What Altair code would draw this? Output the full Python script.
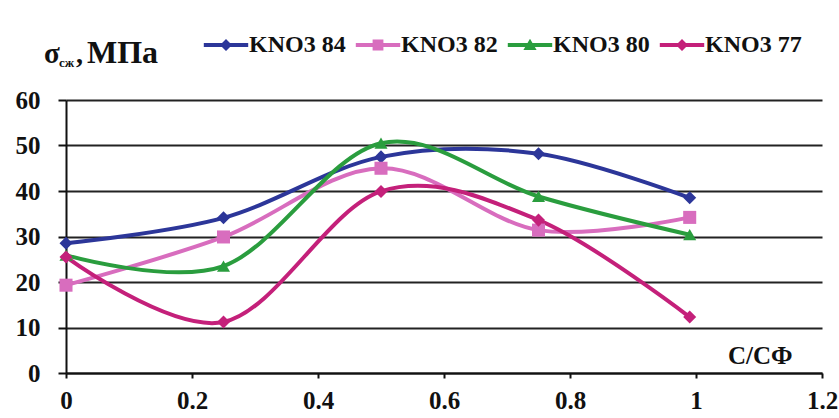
import altair as alt
import pandas as pd

# C/CФ ratio values and compressive strength (MPa) for each KNO3 series
ratio = [0.0, 0.25, 0.5, 0.75, 0.99]
kno3_84 = [28.5, 34.1, 47.5, 48.2, 38.5]
kno3_82 = [19.3, 29.9, 45.0, 31.4, 34.2]
kno3_80 = [25.9, 23.5, 50.5, 38.8, 30.4]
kno3_77 = [25.5, 11.2, 39.9, 33.6, 12.3]

series_names = ["KNO3 84", "KNO3 82", "KNO3 80", "KNO3 77"]
series_values = [kno3_84, kno3_82, kno3_80, kno3_77]
colors = ["#2C3699", "#D86DBE", "#2A9D3E", "#C4207A"]
markers = ["diamond", "square", "triangle-up", "diamond"]
x_ticks = [0, 0.2, 0.4, 0.6, 0.8, 1.0, 1.2]
y_ticks = [0, 10, 20, 30, 40, 50, 60]

rows = []
for name, vals in zip(series_names, series_values):
    for i, (xv, yv) in enumerate(zip(ratio, vals)):
        rows.append({"x": xv, "y": yv, "series": name, "order": i})
df = pd.DataFrame(rows)

FONT = "Liberation Serif"

# legend glyphs: short line segment with the series marker in the middle
seg = "M-3.7,-0.33L3.7,-0.33L3.7,0.33L-3.7,0.33Z"
glyphs = {
    "diamond": "M-1.0,0L0,-1.0L1.0,0L0,1.0Z",
    "square": "M-0.9,-0.9L0.9,-0.9L0.9,0.9L-0.9,0.9Z",
    "triangle-up": "M0,-1.05L1.1,0.85L-1.1,0.85Z",
}
legend_paths = [seg + glyphs[m] for m in markers]

x_enc = alt.X("x:Q", scale=alt.Scale(domain=[0, 1.2], nice=False),
              axis=alt.Axis(values=x_ticks, format=".1~f", grid=False,
                            domainColor="#111", domainWidth=2,
                            tickColor="#111", tickWidth=2, tickSize=5,
                            labelFont=FONT, labelFontSize=25, labelFontWeight="bold",
                            labelColor="#111", labelPadding=10, labelFlush=False,
                            title="С/СФ", titleFont=FONT, titleFontSize=25,
                            titleFontWeight="bold", titleColor="#111",
                            titleAlign="right", titleBaseline="middle",
                            titleX=726, titleY=-18, titleAnchor="end"))
y_enc = alt.Y("y:Q", scale=alt.Scale(domain=[0, 60], nice=False),
              axis=alt.Axis(values=y_ticks, grid=True, gridColor="#222", gridWidth=2,
                            domainColor="#111", domainWidth=2,
                            tickColor="#111", tickWidth=2, tickSize=8,
                            labelFont=FONT, labelFontSize=25, labelFontWeight="bold",
                            labelColor="#111", labelPadding=18, title=None))

color_scale = alt.Scale(domain=series_names, range=colors)

lines = alt.Chart(df).mark_line(interpolate="cardinal", strokeWidth=4).encode(
    x=x_enc, y=y_enc,
    color=alt.Color("series:N", scale=color_scale, legend=None),
    detail="series:N",
    order="order:Q",
)

# one marker layer per series so each keeps its own symbol
marker_layers = []
for name, m in zip(series_names, markers):
    marker_layers.append(
        alt.Chart(df).transform_filter(alt.datum.series == name)
        .mark_point(filled=True, opacity=1, size=170, shape=m)
        .encode(x="x:Q", y="y:Q",
                color=alt.Color("series:N", scale=color_scale, legend=None))
    )

legend_props = dict(orient="none", legendX=148, legendY=-67,
                    direction="horizontal", title=None,
                    symbolSize=144, symbolStrokeWidth=0, symbolOpacity=1,
                    labelFont=FONT, labelFontSize=24,
                    labelFontWeight="bold", labelColor="#111",
                    labelOffset=11, columnPadding=9, labelLimit=300)

# invisible marks that only carry the legend
legend_layer = alt.Chart(df).mark_point(filled=True).encode(
    x="x:Q", y="y:Q",
    opacity=alt.value(0),
    fill=alt.Fill("series:N", scale=alt.Scale(domain=series_names, range=colors),
                  legend=alt.Legend(**legend_props)),
    shape=alt.Shape("series:N", scale=alt.Scale(domain=series_names, range=legend_paths),
                    legend=alt.Legend(**legend_props)),
)

# axis caption σсж, МПа with subscript
one = alt.Data(values=[{}])
def caption(text, x, y, size):
    return alt.Chart(one).mark_text(font=FONT, fontWeight="bold", fontSize=size,
                                    align="left", baseline="alphabetic",
                                    color="#111").encode(
        x=alt.value(x), y=alt.value(y), text=alt.value(text))

cap = (caption("σ", -22, -37, 29) + caption("сж", -7, -33, 13)
       + caption(",", 10, -37, 28) + caption("МПа", 21, -37, 32))

chart = alt.layer(legend_layer, lines, *marker_layers, cap).properties(
    width=756, height=273,
    autosize=alt.AutoSizeParams(type="none"),
    padding={"left": 66, "top": 100, "right": 17, "bottom": 45},
    background="white",
).configure_view(stroke=None).configure_legend(
    labelFont=FONT, labelFontSize=24, labelFontWeight="bold", labelColor="#111"
)

chart.save("out.html", embed_options={"renderer": "svg", "actions": False})
